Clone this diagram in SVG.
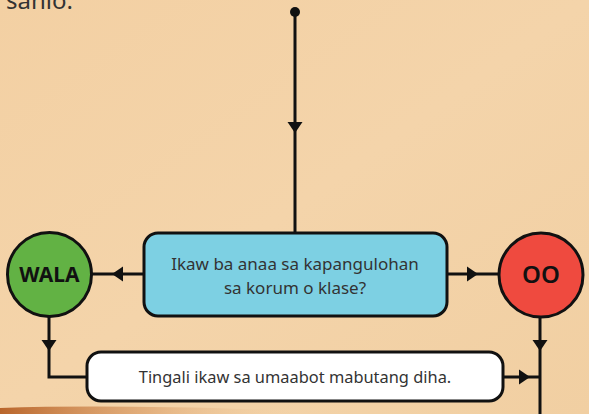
<svg xmlns="http://www.w3.org/2000/svg" width="589" height="414" viewBox="0 0 589 414">
<style>
.ln{fill:none;stroke:#111;stroke-width:3}
.box{stroke:#111;stroke-width:3}
.t{font-family:"Noto Sans","Liberation Sans",sans-serif;fill:#333;text-anchor:middle}
.ah{fill:#111}
</style>
<defs>
<path id="arrow" d="M0,0 L-11,-7.5 L-11,7.5 Z"/>
<linearGradient id="bg" x1="0" y1="0" x2="1" y2="1">
<stop offset="0" stop-color="#F3D0A3"/>
<stop offset="0.5" stop-color="#F4D4AA"/>
<stop offset="1" stop-color="#F1CFA2"/>
</linearGradient>
<linearGradient id="brown" x1="0" y1="0" x2="1" y2="0">
<stop offset="0" stop-color="#B9652B"/>
<stop offset="0.5" stop-color="#D99A62" stop-opacity="0.6"/>
<stop offset="1" stop-color="#F1CFA2" stop-opacity="0"/>
</linearGradient>
</defs>
<rect width="589" height="414" fill="url(#bg)"/>
<path d="M0,408 Q120,404 300,411 L300,414 L0,414 Z" fill="url(#brown)"/>
<text x="6" y="9" font-family="Noto Sans, Liberation Sans, sans-serif" font-size="24" fill="#333">sahio.</text>

<g id="connectors">
<circle cx="295" cy="12" r="5" fill="#111"/>
<path class="ln" d="M295,12 V234"/>
<path class="ln" d="M144,274 H92"/>
<path class="ln" d="M447,274 H499"/>
<path class="ln" d="M49,317 V377 H87"/>
<path class="ln" d="M540,317 V414"/>
<path class="ln" d="M503,377 H540"/>
<use href="#arrow" class="ah" transform="translate(295,133) rotate(90)"/>
<use href="#arrow" class="ah" transform="translate(112,274) rotate(180)"/>
<use href="#arrow" class="ah" transform="translate(478,274)"/>
<use href="#arrow" class="ah" transform="translate(49,351) rotate(90)"/>
<use href="#arrow" class="ah" transform="translate(540,351) rotate(90)"/>
<use href="#arrow" class="ah" transform="translate(530,377)"/>
</g>

<g id="question">
<rect class="box" x="144" y="233" width="303" height="83" rx="14" fill="#7DD0E3"/>
<text class="t" x="295" y="270" font-size="17">Ikaw ba anaa sa kapangulohan</text>
<text class="t" x="295" y="294" font-size="17">sa korum o klase?</text>
</g>

<g id="wala">
<circle class="box" cx="49.5" cy="274.5" r="42" fill="#62B244"/>
<text class="t" x="49.5" y="282" font-size="21" font-weight="bold" style="fill:#111">WALA</text>
</g>

<g id="oo">
<circle class="box" cx="541" cy="275" r="42" fill="#EF4A3F"/>
<text class="t" x="541" y="283" font-size="24" font-weight="600" style="fill:#111">OO</text>
</g>

<g id="note">
<rect class="box" x="87" y="352" width="416" height="49" rx="14" fill="#fff"/>
<text class="t" x="295" y="383" font-size="16.4">Tingali ikaw sa umaabot mabutang diha.</text>
</g>
</svg>
